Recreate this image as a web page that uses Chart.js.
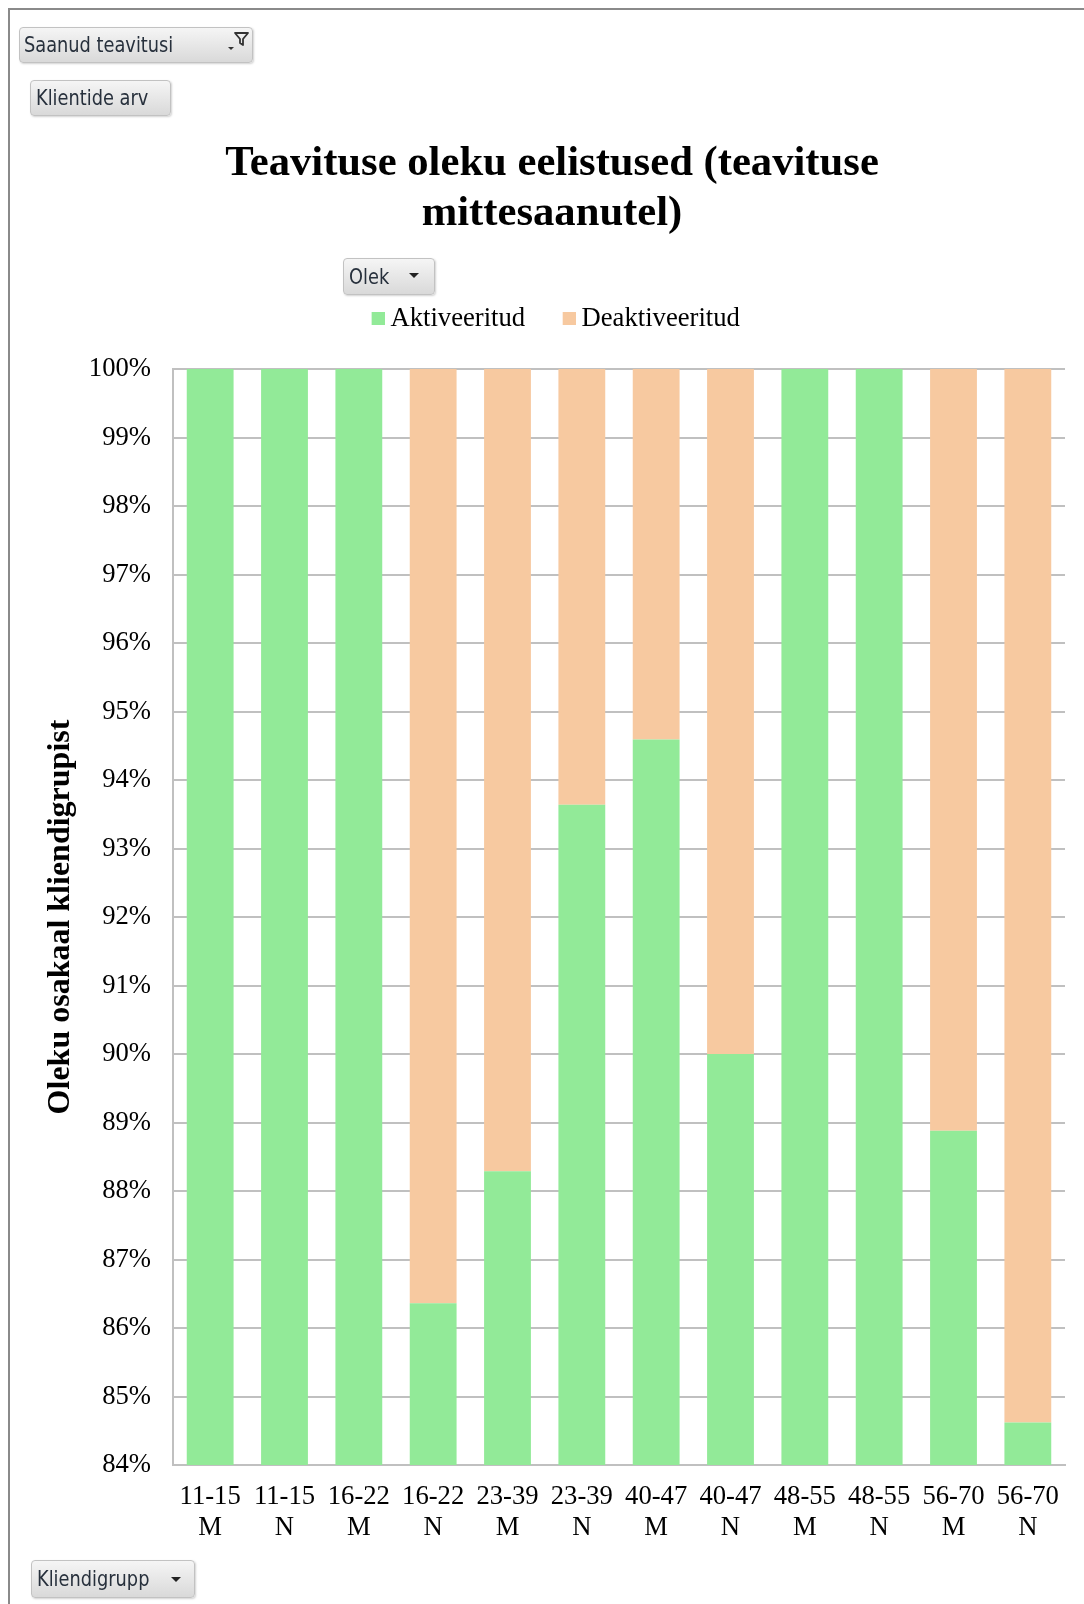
<!DOCTYPE html>
<html>
<head>
<meta charset="utf-8">
<title>Teavituse oleku eelistused</title>
<script src="https://cdn.jsdelivr.net/npm/chart.js@4.4.1/dist/chart.umd.min.js"></script>
<style>
  html, body { margin: 0; padding: 0; background: #fff; }
  #wrap { position: relative; width: 1084px; height: 1604px; overflow: hidden; background: #fff; }
  #frame { position: absolute; left: 8px; top: 8px; width: 1100px; height: 1620px;
           border-left: 2px solid #8a8a8a; border-top: 2px solid #8a8a8a; box-sizing: border-box; }
  #chart { position: absolute; left: 0; top: 0; }
  .btn { position: absolute; box-sizing: border-box; border: 1px solid #c2c2c2; border-radius: 4px;
         background: linear-gradient(#f5f5f5, #d9d9d9); box-shadow: 1px 1px 2px rgba(0,0,0,0.18);
         font-family: 'DejaVu Sans', 'Liberation Sans', sans-serif; font-size: 17.8px; color: #27303c; }
  .btn .t { position: absolute; top: 50%; white-space: nowrap; line-height: 1;
            transform: translateY(-50%) scaleY(1.17); transform-origin: left center; }
  .btn svg { position: absolute; }
</style>
</head>
<body>
<div id="wrap">
  <div id="frame"></div>
  <canvas id="chart" width="1084" height="1604"></canvas>

  <div class="btn" style="left:19px; top:27px; width:234px; height:36px;">
    <span class="t" style="left:4px;">Saanud teavitusi</span>
    <svg style="left:204px; top:3px;" width="26" height="22" viewBox="0 0 26 22">
      <path d="M11 2 L24 2 L19 8 L19 14 L16 12 L16 8 Z" fill="none" stroke="#333" stroke-width="1.8" stroke-linejoin="round"/>
      <path d="M4 16 L10 16 L7 19 Z" fill="#333"/>
    </svg>
  </div>

  <div class="btn" style="left:30px; top:80px; width:141px; height:36px;">
    <span class="t" style="left:5px;">Klientide arv</span>
  </div>

  <div class="btn" style="left:343px; top:258px; width:92px; height:37px;">
    <span class="t" style="left:5px;">Olek</span>
    <svg style="left:64px; top:13px;" width="12" height="8" viewBox="0 0 12 8">
      <path d="M1 1 L11 1 L6 6 Z" fill="#222"/>
    </svg>
  </div>

  <div class="btn" style="left:31px; top:1560px; width:164px; height:38px;">
    <span class="t" style="left:5px;">Kliendigrupp</span>
    <svg style="left:138px; top:15px;" width="12" height="8" viewBox="0 0 12 8">
      <path d="M1 1 L11 1 L6 6 Z" fill="#222"/>
    </svg>
  </div>
</div>

<script>
// Client groups: age band + gender
const ageGroups = ['11-15', '11-15', '16-22', '16-22', '23-39', '23-39', '40-47', '40-47', '48-55', '48-55', '56-70', '56-70'];
const genders   = ['M', 'N', 'M', 'N', 'M', 'N', 'M', 'N', 'M', 'N', 'M', 'N'];

// Share of each state within the client group, in percent
const aktiveeritud   = [100, 100, 100, 86.36, 88.29, 93.64, 94.59, 90.0, 100, 100, 88.88, 84.62];
const deaktiveeritud = [0, 0, 0, 13.64, 11.71, 6.36, 5.41, 10.0, 0, 0, 11.12, 15.38];

// Visible value range of the percentage axis
const yMin = 84;
const yMax = 100;
const yStep = 1;

const seriesNames = ['Aktiveeritud', 'Deaktiveeritud'];
const titleLines = ['Teavituse oleku eelistused (teavituse', 'mittesaanutel)'];
const yTitle = 'Oleku osakaal kliendigrupist';

const SERIF = "'Liberation Serif', 'Times New Roman', serif";
const GREEN = '#92EA98';
const PEACH = '#F7C9A0';
const GRID = '#C0C0C0';

const labels = ageGroups.map((a, i) => [a, genders[i]]);

// Legend marker: a 13px square sitting at the right end of a wider
// transparent image, so the square ends up close to its label text.
function legendMarker(color) {
  const c = document.createElement('canvas');
  c.width = 28;
  c.height = 13;
  const g = c.getContext('2d');
  g.fillStyle = color;
  g.fillRect(15, 0, 13, 13);
  return c;
}
const markers = [legendMarker(GREEN), legendMarker(PEACH)];

// Extra room between the legend row and the plot area
const legendGap = {
  id: 'legendGap',
  beforeInit(chart) {
    const fit = chart.legend.fit;
    chart.legend.fit = function () {
      fit.call(this);
      this.height += 26.8;
    };
  }
};

new Chart(document.getElementById('chart').getContext('2d'), {
  type: 'bar',
  data: {
    labels: labels,
    datasets: [
      { label: seriesNames[0], data: aktiveeritud, backgroundColor: GREEN, borderWidth: 0, stack: 's', pointStyle: markers[0] },
      { label: seriesNames[1], data: deaktiveeritud, backgroundColor: PEACH, borderWidth: 0, stack: 's', pointStyle: markers[1] }
    ]
  },
  options: {
    responsive: false,
    animation: false,
    devicePixelRatio: 1,
    layout: { padding: { left: 39, right: 19, top: 0, bottom: 0 } },
    datasets: { bar: { categoryPercentage: 1, barPercentage: 0.63 } },
    plugins: {
      title: {
        display: true,
        text: titleLines,
        color: '#000',
        font: { family: SERIF, size: 42.67, weight: 'bold', lineHeight: 1.17 },
        padding: { top: 139, bottom: 36.7 }
      },
      legend: {
        display: true,
        position: 'top',
        labels: {
          color: '#000',
          font: { family: SERIF, size: 26.67 },
          usePointStyle: true,
          pointStyleWidth: 13,
          boxWidth: 13,
          boxHeight: 13,
          padding: 30
        }
      },
      tooltip: { enabled: false }
    },
    scales: {
      x: {
        stacked: true,
        grid: { display: false, drawTicks: false },
        border: { display: true, color: GRID, width: 2 },
        ticks: {
          color: '#000',
          font: { family: SERIF, size: 26.67, lineHeight: 1.15 },
          padding: 16.5,
          maxRotation: 0,
          autoSkip: false
        },
        afterFit(scale) { scale.height = 139; }
      },
      y: {
        stacked: true,
        min: yMin,
        max: yMax,
        grid: { color: GRID, lineWidth: 2, drawTicks: false },
        border: { display: true, color: GRID, width: 2 },
        ticks: {
          stepSize: yStep,
          color: '#000',
          font: { family: SERIF, size: 26.67 },
          padding: 22,
          callback: (v) => v + '%'
        },
        title: {
          display: true,
          text: yTitle,
          color: '#000',
          font: { family: SERIF, size: 32, weight: 'bold', lineHeight: 1.2 },
          padding: { top: 3, bottom: 0 }
        },
        afterFit(scale) { scale.width = 134; }
      }
    }
  },
  plugins: [legendGap]
});
</script>
</body>
</html>
